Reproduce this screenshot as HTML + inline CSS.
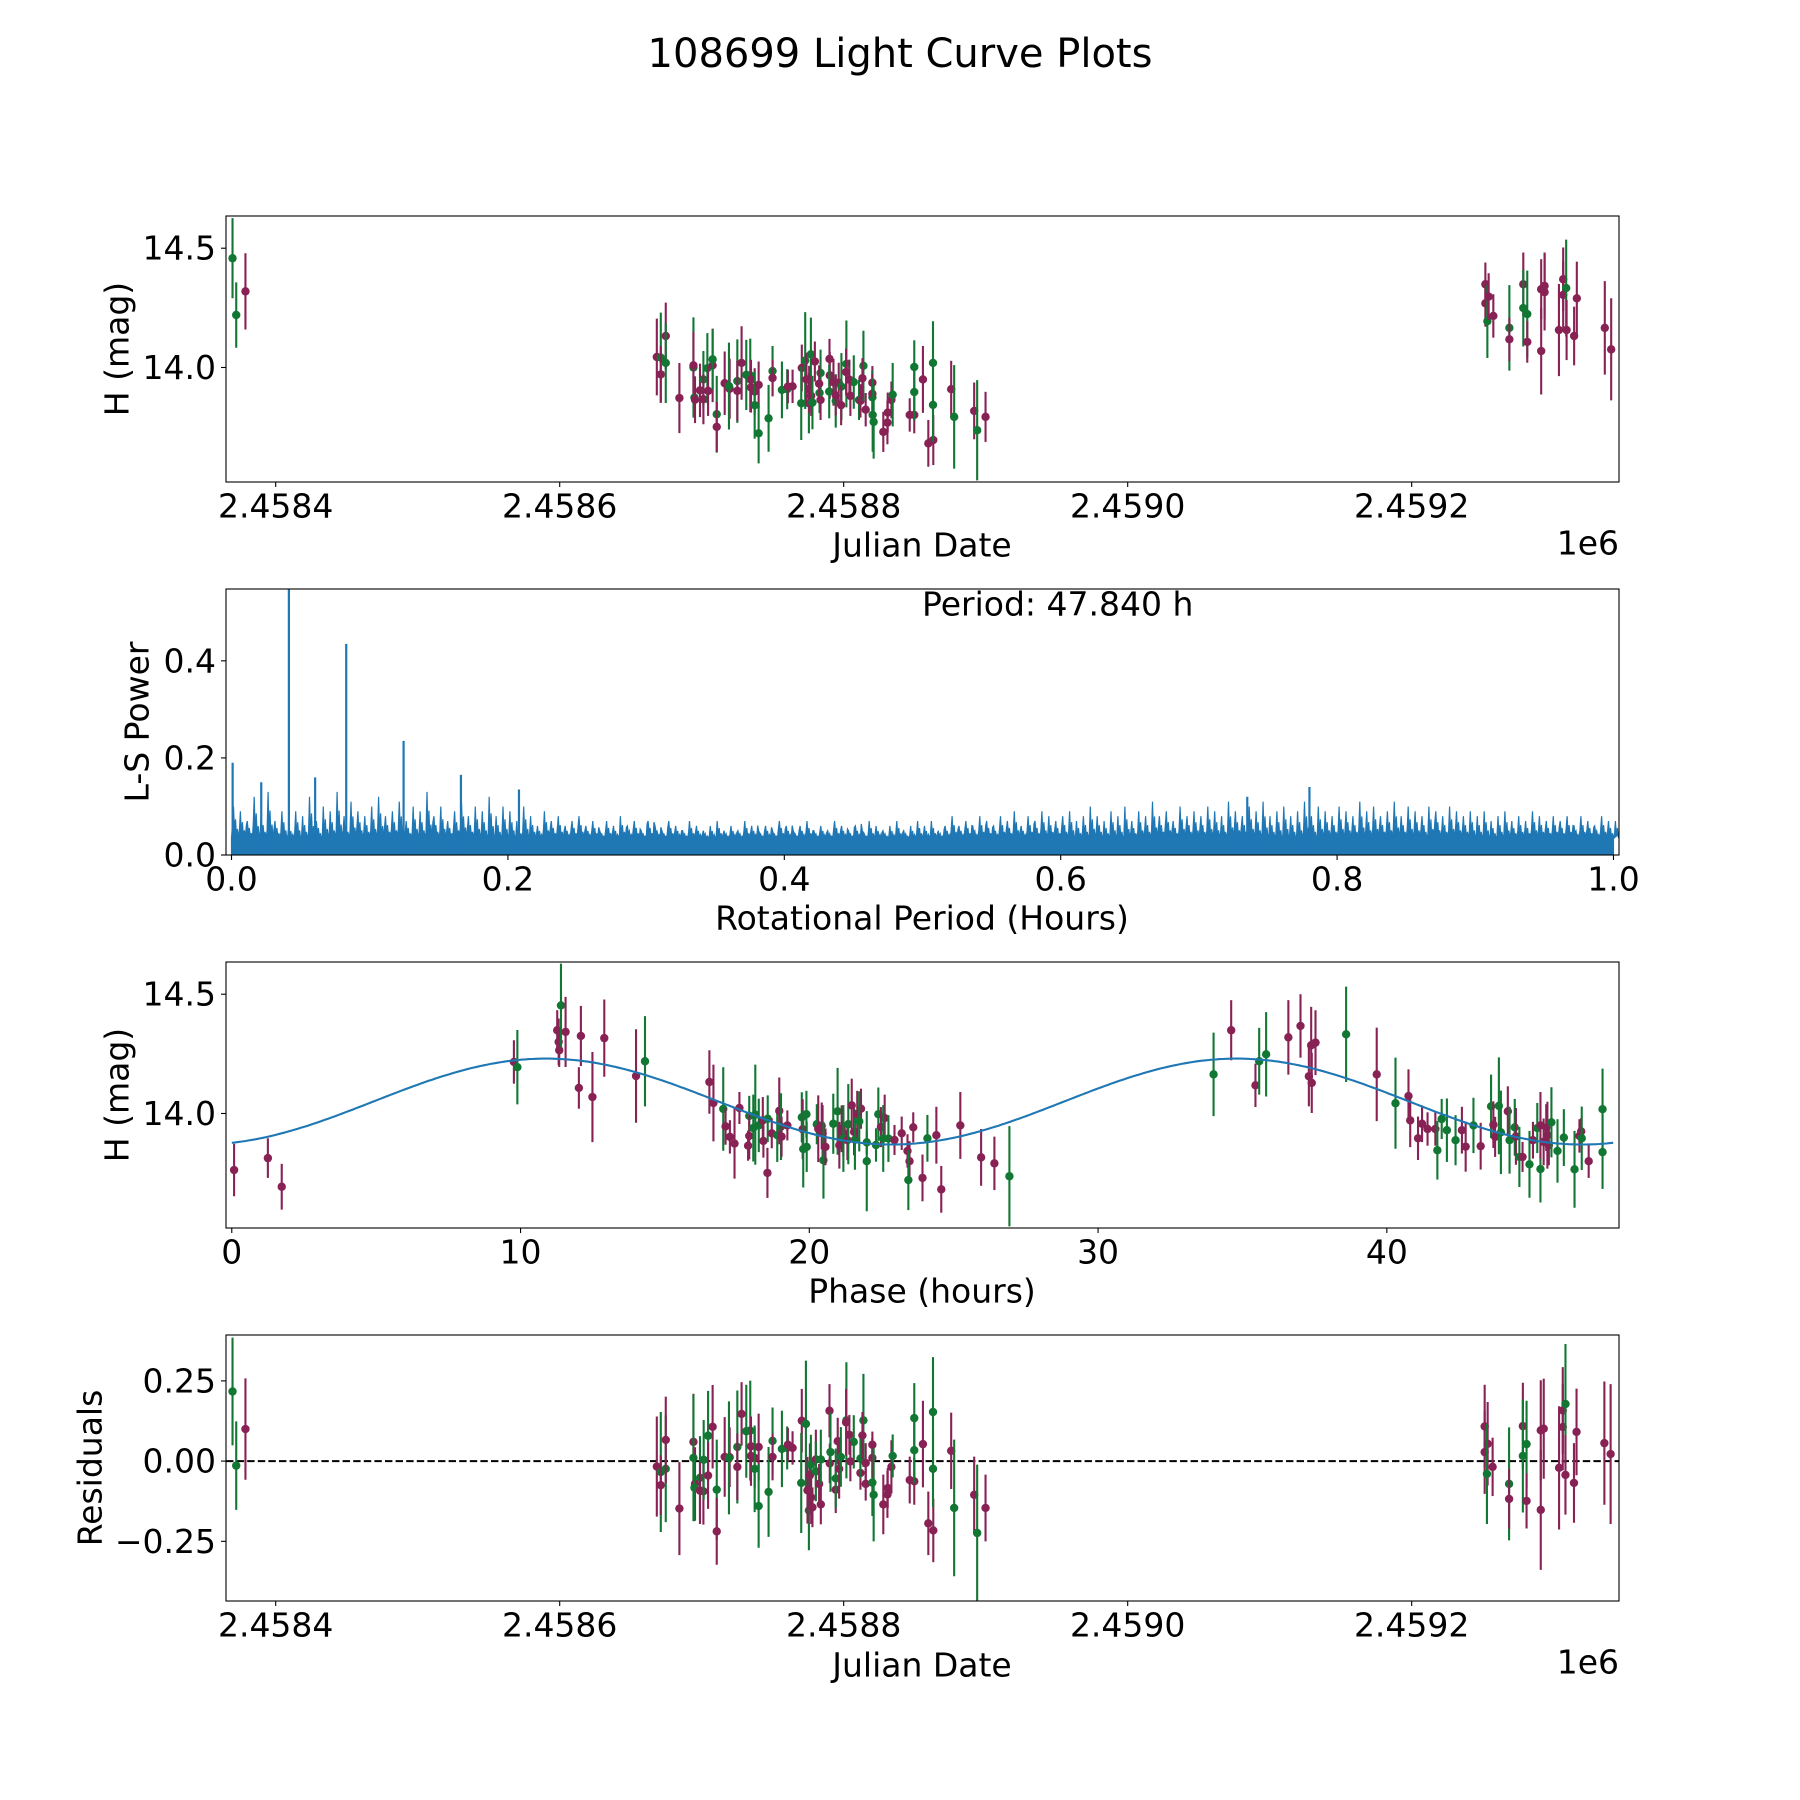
<!DOCTYPE html>
<html><head><meta charset="utf-8"><title>108699 Light Curve Plots</title>
<style>
html,body{margin:0;padding:0;background:#fff;}
svg{display:block;font-family:"DejaVu Sans","Liberation Sans",sans-serif;}
</style></head>
<body>
<svg id="fig" xmlns="http://www.w3.org/2000/svg" width="1800" height="1800" viewBox="0 0 1800 1800">
<rect x="0" y="0" width="1800" height="1800" fill="#fff"/>
<text x="900" y="54" font-size="40" text-anchor="middle" dominant-baseline="central">108699 Light Curve Plots</text>
</svg>
<script>
// ---------- Panel 1: light curve vs Julian Date ----------
const lcJd = [2458369.6,2458372.2,2458378.7,
2458668.4,2458671.2,2458671.2,2458674.7,2458674.7,2458684.3,2458694.2,2458694.2,2458694.9,2458695.3,
2458698.8,2458701.2,2458701.2,2458704.0,2458704.5,2458707.7,2458707.7,2458710.6,2458710.6,2458716.2,
2458719.7,2458719.2,2458725.1,2458725.1,2458728.1,2458731.4,2458734.2,2458734.7,2458734.7,2458737.3,
2458737.3,2458740.1,2458740.1,2458747.1,2458749.9,2458749.9,2458756.5,2458760.2,2458760.7,2458764.0,
2458770.5,2458770.1,2458772.9,2458775.5,2458773.8,2458775.7,2458776.9,2458777.1,2458778.0,2458779.7,
2458783.0,2458783.7,2458783.7,2458782.7,2458790.0,2458790.2,2458789.8,2458792.8,2458794.4,2458794.4,
2458796.5,2458798.4,2458798.2,2458801.9,2458801.7,2458804.0,2458807.1,2458804.7,2458810.8,2458811.8,
2458813.9,2458813.2,2458815.5,2458820.2,2458820.2,2458820.2,2458820.4,2458821.1,2458827.9,2458830.8,
2458831.0,2458833.6,2458834.5,2458846.5,2458849.7,2458849.7,2458849.7,2458855.8,2458859.6,2458863.1,
2458862.9,2458862.9,2458875.7,2458877.8,2458891.9,2458894.0,2458899.9,
2459251.9,2459251.9,2459253.3,2459254.2,2459257.5,2459268.8,2459268.8,2459278.6,2459278.6,2459281.4,
2459281.4,2459291.2,2459291.2,2459293.6,2459293.6,2459303.7,2459306.7,2459306.7,2459308.8,2459309.1,
2459314.4,2459316.3,2459336.0,2459340.5];
const lcMag = [14.458,14.220,14.319,
14.044,14.041,13.971,14.132,14.019,13.872,14.000,14.009,13.874,13.865,
13.904,13.950,13.867,13.997,13.902,14.009,14.034,13.804,13.751,13.934,
13.911,13.922,13.943,13.902,14.019,13.969,13.967,13.948,13.916,13.899,
13.842,13.927,13.724,13.787,13.985,13.956,13.906,13.909,13.920,13.921,
13.998,13.850,14.029,13.850,13.950,13.909,14.055,13.881,13.853,14.025,
13.893,13.864,13.977,13.932,14.036,13.967,13.899,13.938,13.860,13.883,
13.936,13.920,13.842,14.015,13.981,13.949,13.939,13.881,13.864,13.860,
14.007,13.955,13.823,13.936,13.875,13.890,13.801,13.772,13.730,13.769,
13.811,13.864,13.886,13.801,13.801,14.002,13.897,13.950,13.682,13.696,
14.019,13.843,13.909,13.793,13.818,13.737,13.793,
14.349,14.269,14.194,14.297,14.216,14.166,14.118,14.349,14.249,14.224,
14.107,14.328,14.069,14.342,14.316,14.157,14.370,14.304,14.333,14.157,
14.132,14.290,14.166,14.076];
const lcErr = [0.168,0.137,0.160,
0.161,0.189,0.119,0.140,0.168,0.147,0.210,0.140,0.084,0.098,
0.112,0.119,0.105,0.147,0.105,0.154,0.126,0.161,0.105,0.133,
0.126,0.182,0.175,0.126,0.154,0.147,0.154,0.084,0.105,0.098,
0.140,0.098,0.126,0.140,0.105,0.077,0.119,0.084,0.070,0.070,
0.098,0.154,0.203,0.126,0.112,0.098,0.154,0.084,0.112,0.084,
0.084,0.084,0.098,0.077,0.084,0.098,0.112,0.098,0.112,0.084,
0.084,0.140,0.084,0.182,0.098,0.084,0.112,0.084,0.084,0.070,
0.147,0.084,0.070,0.070,0.112,0.084,0.154,0.154,0.084,0.091,
0.084,0.077,0.133,0.070,0.077,0.112,0.119,0.140,0.098,0.105,
0.175,0.154,0.119,0.217,0.119,0.210,0.105,
0.091,0.098,0.154,0.098,0.091,0.179,0.091,0.133,0.161,0.182,
0.087,0.126,0.182,0.140,0.161,0.193,0.133,0.140,0.203,0.126,
0.123,0.154,0.196,0.214];
const lcBand = ("GGP"+"PGPPGPGPGP"+"PGPGPPGGPP"+"PGGPPGGPPP"+"GPGGGPGGPP"+"PGGGPPGPGP"+"GPGPPPGPGP"+"PGPGPPGPGP"+"GPPPGPGGPP"+"PPGPPGGPPP"+"GGPGPGP"+"PPGPPGPPGGPPPPPPPPGPPPPP").toLowerCase();
// ---------- Panel 2: Lomb-Scargle periodogram ----------
const lsStep = 0.005;
const lsPower = [
0.10,0.09,0.07,0.12,0.08,0.13,0.07,0.09,0.06,0.09,0.08,0.12,0.07,0.10,0.09,0.13,0.08,0.11,0.09,0.08,
0.10,0.12,0.08,0.09,0.11,0.07,0.10,0.09,0.13,0.08,0.10,0.07,0.09,0.11,0.08,0.10,0.09,0.12,0.08,0.10,
0.09,0.07,0.10,0.08,0.06,0.09,0.07,0.08,0.06,0.07,0.08,0.06,0.07,0.05,0.07,0.06,0.08,0.06,0.07,0.05,
0.07,0.06,0.05,0.07,0.06,0.05,0.07,0.06,0.05,0.06,0.07,0.05,0.06,0.05,0.07,0.06,0.05,0.06,0.05,0.07,
0.06,0.05,0.06,0.07,0.05,0.06,0.05,0.07,0.06,0.05,0.06,0.05,0.07,0.06,0.05,0.06,0.07,0.05,0.06,0.07,
0.06,0.07,0.05,0.06,0.08,0.06,0.07,0.06,0.08,0.07,0.06,0.08,0.07,0.09,0.06,0.08,0.07,0.09,0.08,0.07,
0.08,0.09,0.07,0.08,0.10,0.08,0.07,0.09,0.08,0.10,0.07,0.09,0.08,0.11,0.08,0.09,0.07,0.10,0.08,0.09,
0.08,0.10,0.09,0.08,0.11,0.09,0.08,0.10,0.09,0.11,0.08,0.09,0.10,0.08,0.09,0.11,0.08,0.10,0.09,0.08,
0.10,0.09,0.08,0.11,0.09,0.10,0.08,0.09,0.11,0.08,0.10,0.09,0.08,0.10,0.09,0.08,0.10,0.09,0.08,0.09,
0.08,0.09,0.07,0.08,0.09,0.07,0.08,0.07,0.09,0.08,0.07,0.08,0.07,0.08,0.06,0.08,0.07,0.06,0.08,0.07,
0.07];
const lsFloor = 0.034;
const spikePeriod = [0.0008,0.0415,0.0830,0.1245,0.1660,0.2080,0.0605,0.0215,0.7800,0.7350];
const spikePower = [0.19,0.60,0.435,0.235,0.165,0.135,0.16,0.15,0.14,0.12];
const periodText = "Period: 47.840 h";
// ---------- Panel 3: phased light curve ----------
const phHours = [0.08,1.25,1.73,
9.77,9.89,11.27,11.32,11.34,11.40,11.56,12.09,12.02,12.49,12.90,14.00,14.31,16.54,16.68,17.02,17.10,17.25,
17.41,17.58,17.92,17.92,17.88,18.06,18.13,18.25,18.39,18.41,18.56,18.55,18.70,18.89,18.96,19.02,19.04,19.24,
19.74,19.77,19.79,19.90,19.91,20.26,20.31,20.43,20.46,20.49,20.56,20.83,20.98,21.04,21.12,21.18,21.18,21.32,
21.35,21.47,21.55,21.58,21.66,21.79,21.73,21.99,21.99,22.31,22.39,22.48,22.61,22.56,22.74,22.95,23.20,23.40,
23.47,23.43,23.60,23.92,24.09,24.40,24.57,25.23,25.95,26.41,26.93,
34.00,34.61,35.45,35.58,35.82,36.59,37.01,37.30,37.40,37.38,37.53,38.59,39.65,40.30,40.75,40.81,41.08,41.22,
41.41,41.68,41.75,41.90,42.08,42.38,42.60,42.73,43.00,43.25,43.61,43.69,43.75,43.88,43.95,44.19,44.25,44.43,
44.47,44.59,44.70,44.94,45.06,45.21,45.32,45.32,45.43,45.52,45.56,45.61,45.70,45.91,46.13,46.50,46.67,46.73,
46.75,46.99,47.47,47.47];
const phMag = [13.763,13.813,13.693,
14.216,14.194,14.349,14.300,14.265,14.453,14.342,14.325,14.107,14.069,14.316,14.157,14.219,14.132,14.044,14.019,13.946,13.902,
13.874,14.023,13.990,13.906,13.865,13.939,13.995,13.950,13.971,13.885,13.978,13.751,13.917,13.909,14.011,13.945,13.903,13.950,
13.984,13.934,13.851,13.997,13.860,13.955,13.936,13.948,13.916,13.804,13.860,13.957,14.009,13.867,13.936,13.918,13.895,13.888,
13.955,14.034,13.923,13.890,13.997,14.020,13.967,13.879,13.800,13.868,13.997,13.943,13.981,13.895,13.895,13.889,13.917,13.843,
13.800,13.721,13.942,13.730,13.896,13.909,13.682,13.950,13.816,13.791,13.737,
14.164,14.349,14.118,14.219,14.248,14.319,14.367,14.156,14.128,14.286,14.297,14.332,14.164,14.043,14.073,13.971,13.896,13.957,
13.935,13.935,13.846,13.977,13.930,13.888,13.930,13.861,13.950,13.863,14.030,13.953,13.902,14.032,13.921,14.009,13.888,13.942,
13.904,13.818,13.818,13.787,13.888,13.939,13.767,13.950,13.881,13.941,13.909,13.867,13.963,13.843,13.899,13.766,13.906,13.925,
13.896,13.800,14.018,13.838];
const phErr = [0.110,0.083,0.096,
0.091,0.156,0.084,0.098,0.070,0.175,0.147,0.126,0.087,0.189,0.162,0.196,0.189,0.133,0.161,0.175,0.077,0.070,
0.147,0.067,0.084,0.098,0.063,0.140,0.210,0.112,0.098,0.070,0.098,0.105,0.063,0.112,0.140,0.140,0.084,0.063,
0.105,0.126,0.161,0.098,0.105,0.084,0.140,0.098,0.119,0.161,0.077,0.126,0.182,0.098,0.098,0.098,0.140,0.084,
0.168,0.112,0.098,0.126,0.098,0.084,0.126,0.049,0.210,0.070,0.112,0.084,0.098,0.140,0.098,0.063,0.070,0.070,
0.084,0.126,0.063,0.098,0.098,0.119,0.098,0.140,0.119,0.112,0.210,
0.175,0.126,0.091,0.140,0.177,0.156,0.133,0.126,0.126,0.161,0.136,0.200,0.196,0.191,0.112,0.112,0.091,0.077,
0.070,0.070,0.123,0.084,0.133,0.105,0.098,0.105,0.116,0.098,0.133,0.098,0.084,0.203,0.175,0.105,0.140,0.119,
0.119,0.126,0.063,0.140,0.077,0.105,0.140,0.140,0.098,0.098,0.140,0.084,0.147,0.133,0.119,0.161,0.070,0.056,
0.133,0.070,0.170,0.154];
const phBand = ("PPP"+"PGPPPGPPPP"+"PPGPPGPPPP"+"GPPGGGPPGP"+"PGPGPPGPGG"+"GGPPPGPGGP"+"PPGPGPPGPP"+"GGGGGPPGGP"+"PPPGPPGPPP"+"PPG"+
"GPPGGPPPPP"+"PGPGPPPPPP"+"GGGGPPGPGP"+"PGGPGGPGPG"+"PGGPPPPPGG"+"GGPPGPGG").toLowerCase();
const fitPeriod = 47.84;
const fitMean = 14.05;
const fitAmp = 0.18;
const fitOffset = 4.9;
// ---------- Panel 4: residuals ----------
const resJd = [2458369.6,2458372.2,2458378.7,
2458668.4,2458671.2,2458671.2,2458674.7,2458674.7,2458684.3,2458694.2,2458694.2,2458695.3,2458694.9,
2458698.8,2458698.8,2458701.2,2458701.4,2458704.5,2458704.5,2458707.7,2458710.6,2458710.6,2458716.2,
2458719.7,2458719.2,2458725.1,2458725.1,2458728.1,2458731.4,2458734.2,2458734.7,2458734.7,2458737.3,
2458737.3,2458740.1,2458740.1,2458747.1,2458749.9,2458749.9,2458756.5,2458760.2,2458760.7,2458764.0,
2458770.5,2458773.4,2458770.1,2458775.5,2458774.5,2458776.2,2458776.9,2458777.1,2458778.0,2458780.4,
2458780.4,2458782.7,2458783.9,2458783.9,2458790.0,2458790.2,2458790.7,2458794.4,2458794.4,2458795.8,
2458796.8,2458798.0,2458801.9,2458801.7,2458804.0,2458807.1,2458804.7,2458811.8,2458811.8,2458813.9,
2458813.2,2458815.5,2458815.5,2458820.2,2458820.2,2458820.2,2458821.1,2458827.9,2458830.8,2458831.0,
2458833.6,2458834.5,2458846.5,2458849.7,2458849.7,2458849.7,2458855.8,2458859.6,2458863.1,2458862.9,
2458862.9,2458875.7,2458877.8,2458891.9,2458894.0,2458899.9,
2459251.4,2459251.4,2459253.5,2459253.0,2459257.0,2459268.6,2459268.6,2459278.3,2459278.3,2459280.9,
2459280.9,2459290.9,2459293.0,2459290.9,2459303.8,2459306.4,2459306.4,2459308.3,2459308.3,2459314.3,
2459316.1,2459335.7,2459340.1];
const resVal = [0.217,-0.014,0.100,
-0.017,-0.034,-0.075,-0.024,0.066,-0.148,0.060,0.010,-0.071,-0.083,
-0.052,-0.092,-0.094,0.004,0.079,-0.045,0.107,-0.089,-0.219,0.013,
0.012,0.010,0.044,-0.018,0.147,0.093,0.095,0.046,0.016,0.010,
-0.024,0.044,-0.140,-0.096,0.063,0.013,0.038,0.041,0.051,0.041,
0.126,0.116,-0.068,-0.154,-0.091,-0.044,-0.011,-0.113,-0.144,0.005,
-0.032,-0.071,0.005,-0.135,0.157,-0.007,0.028,-0.089,-0.054,0.062,
-0.024,0.013,0.127,0.121,0.082,0.060,-0.001,-0.037,0.008,0.127,
0.080,-0.006,-0.071,0.051,-0.067,0.010,-0.105,-0.135,-0.104,-0.084,
-0.018,0.016,-0.059,-0.063,0.134,0.034,0.053,-0.194,-0.216,0.153,
-0.024,0.032,-0.146,-0.105,-0.224,-0.146,
0.108,0.028,0.054,-0.040,-0.018,-0.071,-0.118,0.109,0.016,0.053,
-0.124,0.096,0.101,-0.152,-0.021,0.158,0.106,0.178,-0.043,-0.068,
0.091,0.056,0.022];
const resErr = [0.168,0.138,0.158,
0.156,0.187,0.093,0.166,0.135,0.145,0.150,0.197,0.114,0.104,
0.130,0.104,0.104,0.124,0.140,0.104,0.130,0.156,0.104,0.124,
0.093,0.176,0.176,0.104,0.099,0.145,0.156,0.093,0.093,0.093,
0.135,0.104,0.130,0.140,0.104,0.073,0.119,0.067,0.052,0.052,
0.099,0.197,0.156,0.124,0.104,0.099,0.093,0.083,0.062,0.093,
0.093,0.062,0.093,0.062,0.083,0.062,0.124,0.073,0.093,0.073,
0.093,0.093,0.181,0.104,0.062,0.083,0.062,0.052,0.062,0.145,
0.073,0.062,0.052,0.041,0.104,0.062,0.145,0.093,0.073,0.062,
0.083,0.067,0.073,0.073,0.109,0.104,0.135,0.099,0.099,0.171,
0.119,0.119,0.213,0.119,0.213,0.104,
0.130,0.130,0.130,0.156,0.091,0.176,0.093,0.135,0.176,0.135,
0.086,0.156,0.156,0.187,0.192,0.135,0.135,0.187,0.124,0.124,
0.135,0.192,0.218];
const resBand = ("GGP"+"PGPGPPPGPG"+"GPPGGPPGPP"+"PGGPPGGPPP"+"GPGGGPGGPP"+"PGGGPPGPPP"+"GPGPPPGPGP"+"PGGPPGPPGG"+"PPPPGPGPPP"+"PGPPGGPPPG"+"GPGPGP"+"PPPGPGPPGGPPPPPPPGPPPPP").toLowerCase();
// ---------- Axis ticks ----------
const jdTicks = [2458400,2458600,2458800,2459000,2459200];
const jdTickLabels = ["2.4584","2.4586","2.4588","2.4590","2.4592"];
const magTicks = [14.0,14.5];
const magTickLabels = ["14.0","14.5"];
const lsXTicks = [0,0.2,0.4,0.6,0.8,1.0];
const lsXTickLabels = ["0.0","0.2","0.4","0.6","0.8","1.0"];
const lsYTicks = [0,0.2,0.4];
const lsYTickLabels = ["0.0","0.2","0.4"];
const phTicks = [0,10,20,30,40];
const phTickLabels = ["0","10","20","30","40"];
const resTicks = [-0.25,0,0.25];
const resTickLabels = ["\u22120.25","0.00","0.25"];

const NS = "http://www.w3.org/2000/svg";
const svg = document.getElementById('fig');
function mk(tag, attrs, parent){
  const e = document.createElementNS(NS, tag);
  for (const k in attrs) e.setAttribute(k, attrs[k]);
  (parent||svg).appendChild(e);
  return e;
}
const L = 226, R = 1619;
const panels = [[216,482],[589,855],[962,1228],[1335,1601]];
const COL = {g:'#117733', p:'#882255'};
function scale(d0,d1,r0,r1){ return v => r0 + (v-d0)/(d1-d0)*(r1-r0); }

function axesFrame(i, name){
  const [t,b] = panels[i];
  const cp = mk('clipPath',{id:'clip'+i});
  mk('rect',{x:L,y:t,width:R-L,height:b-t},cp);
  const g = mk('g',{'clip-path':'url(#clip'+i+')'});
  
  
  return g;
}
function frame(i, name){
  const [t,b] = panels[i];
  const f = mk('rect',{x:L,y:t,width:R-L,height:b-t,fill:'none',stroke:'#000','stroke-width':1.1});
  
  
}
function xTicks(i, ticks, labels, sx, name){
  const b = panels[i][1];
  ticks.forEach((v,k)=>{
    const x = sx(v);
    const tk = mk('line',{x1:x,x2:x,y1:b,y2:b+5,stroke:'#000','stroke-width':1.1});
    
    
    const tx = mk('text',{x:x,y:b+24,'font-size':33,'text-anchor':'middle','dominant-baseline':'central'});
    tx.textContent = labels[k];
    
    
  });
}
function yTicks(i, ticks, labels, sy, name){
  ticks.forEach((v,k)=>{
    const y = sy(v);
    const tk = mk('line',{x1:L-5,x2:L,y1:y,y2:y,stroke:'#000','stroke-width':1.1});
    
    
    const tx = mk('text',{x:L-10,y:y,'font-size':33,'text-anchor':'end','dominant-baseline':'central'});
    tx.textContent = labels[k];
    
    
  });
}
function xLabel(text, y, name){
  const t = mk('text',{x:922,y:y,'font-size':33,'text-anchor':'middle','dominant-baseline':'central'});
  t.textContent = text;
  
  
}
function yLabel(text, x, i, name){
  const [t0,b0] = panels[i]; const cy=(t0+b0)/2;
  const t = mk('text',{x:x,y:cy,'font-size':33,'text-anchor':'middle','dominant-baseline':'central',transform:'rotate(-90 '+x+' '+cy+')'});
  t.textContent = text;
  
  
}
function offsetLabel(y, name){
  const t = mk('text',{x:R,y:y,'font-size':33,'text-anchor':'end','dominant-baseline':'central'});
  t.textContent = '1e6';
  
  
}
function errPoints(g, xs, ys, es, bands, sx, sy, name){
  for (let k=0;k<xs.length;k++){
    const c = COL[bands[k]] || COL.p;
    const x = sx(xs[k]);
    const bar = mk('line',{x1:x,x2:x,y1:sy(ys[k]-es[k]),y2:sy(ys[k]+es[k]),stroke:c,'stroke-width':2.1},g);
    
    
    const pt = mk('circle',{cx:x,cy:sy(ys[k]),r:4.2,fill:c},g);
    
    
  }
}

// Panel 1
const sxJd = scale(2458365,2459346,L,R);
const sy1 = scale(13.52,14.635,panels[0][1],panels[0][0]);
const g1 = axesFrame(0,'light-curve');
errPoints(g1, lcJd, lcMag, lcErr, lcBand, sxJd, sy1, 'light-curve');
frame(0,'light-curve');
xTicks(0, jdTicks, jdTickLabels, sxJd, 'light-curve');
yTicks(0, magTicks, magTickLabels, sy1, 'light-curve');
xLabel('Julian Date', 545, 'light-curve-x-axis-title');
yLabel('H (mag)', 117, 0, 'light-curve-y-axis-title');
offsetLabel(543, 'light-curve-x-offset-label');

// Panel 2
const sxLs = scale(-0.004,1.004,L,R);
const sy2 = scale(0,0.548,panels[1][1],panels[1][0]);
const g2 = axesFrame(1,'periodogram');
let base = [];
base.push(sxLs(0)+','+sy2(0));
const subFrac = [0, 0.35, 1.0, 0.15, 0.6, 0.05, 0.3];
for (let k=0;k<lsPower.length;k++){
  const p = k*lsStep;
  const nb = lsPower[(k*7+3)%lsPower.length];
  for (let s=0;s<subFrac.length;s++){
    const pp = p + lsStep*s/subFrac.length;
    const amp = s%2===0 ? lsPower[k] : nb;
    const v = lsFloor + (amp-lsFloor)*subFrac[s];
    base.push(sxLs(pp).toFixed(1)+','+sy2(v).toFixed(1));
  }
}
base.push(sxLs(1.0)+','+sy2(lsFloor));
base.push(sxLs(1.0)+','+sy2(0));
const area = mk('polygon',{points:base.join(' '),fill:'#1f77b4',stroke:'#1f77b4','stroke-width':1.2,'stroke-linejoin':'miter'},g2);


for (let k=0;k<spikePeriod.length;k++){
  const x = sxLs(spikePeriod[k]);
  const sp = mk('line',{x1:x,x2:x,y1:sy2(0),y2:sy2(spikePower[k]),stroke:'#1f77b4','stroke-width':2.2},g2);
  
  
}
frame(1,'periodogram');
xTicks(1, lsXTicks, lsXTickLabels, sxLs, 'periodogram');
yTicks(1, lsYTicks, lsYTickLabels, sy2, 'periodogram');
xLabel('Rotational Period (Hours)', 918, 'periodogram-x-axis-title');
yLabel('L-S Power', 137, 1, 'periodogram-y-axis-title');
const pt = mk('text',{x:922,y:604,'font-size':33,'text-anchor':'start','dominant-baseline':'central'});
pt.textContent = periodText;



// Panel 3
const sxPh = scale(-0.2,48.04,L,R);
const sy3 = scale(13.52,14.635,panels[2][1],panels[2][0]);
const g3 = axesFrame(2,'phase-curve');
errPoints(g3, phHours, phMag, phErr, phBand, sxPh, sy3, 'phase-curve');
let fit = [];
for (let s=0;s<=400;s++){
  const ph = fitPeriod*s/400;
  const m = fitMean + fitAmp*Math.sin(2*Math.PI*(ph-fitOffset)/(fitPeriod/2));
  fit.push(sxPh(ph).toFixed(1)+','+sy3(m).toFixed(1));
}
const fl = mk('polyline',{points:fit.join(' '),fill:'none',stroke:'#1f77b4','stroke-width':2.1},g3);


frame(2,'phase-curve');
xTicks(2, phTicks, phTickLabels, sxPh, 'phase-curve');
yTicks(2, magTicks, magTickLabels, sy3, 'phase-curve');
xLabel('Phase (hours)', 1291, 'phase-curve-x-axis-title');
yLabel('H (mag)', 117, 2, 'phase-curve-y-axis-title');

// Panel 4
const sy4 = scale(-0.436,0.393,panels[3][1],panels[3][0]);
const g4 = axesFrame(3,'residuals');
const zl = mk('line',{x1:L,x2:R,y1:sy4(0),y2:sy4(0),stroke:'#000','stroke-width':2,'stroke-dasharray':'7.4,3.2'},g4);


errPoints(g4, resJd, resVal, resErr, resBand, sxJd, sy4, 'residuals');
frame(3,'residuals');
xTicks(3, jdTicks, jdTickLabels, sxJd, 'residuals');
yTicks(3, resTicks, resTickLabels, sy4, 'residuals');
xLabel('Julian Date', 1665, 'residuals-x-axis-title');
yLabel('Residuals', 90, 3, 'residuals-y-axis-title');
offsetLabel(1662, 'residuals-x-offset-label');
</script>
</body></html>
